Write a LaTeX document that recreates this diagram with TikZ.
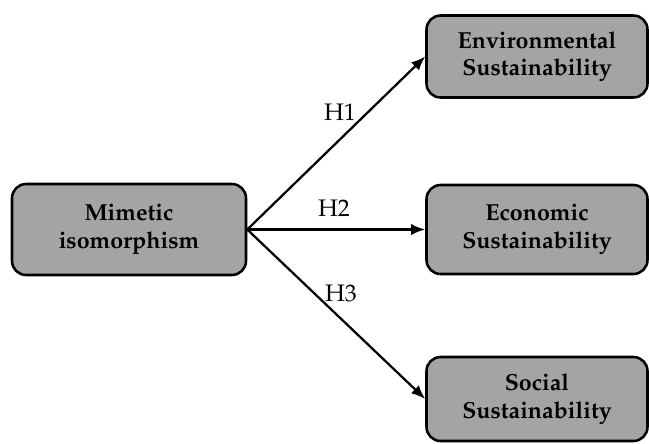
\documentclass[tikz,border=0pt]{standalone}
\usepackage[T1]{fontenc}
\usepackage{mathpazo}
\usetikzlibrary{arrows.meta}
\definecolor{boxgray}{RGB}{164,164,164}
\tikzset{
	construct/.style={draw, line width=1.8pt, fill=boxgray, rounded corners=10pt,
		align=center, font=\fontsize{16.5}{19.5}\selectfont\bfseries, inner sep=0pt},
	path/.style={line width=1.6pt, -{Latex[length=10pt,width=8pt]}},
	hyp/.style={font=\fontsize{17}{20}\selectfont}
}
\begin{document}
\begin{tikzpicture}[x=0.025cm, y=-0.025cm]
	\useasboundingbox (0,0) rectangle (649,443);

	\node[construct, minimum width=234*0.025cm, minimum height=91*0.025cm] (mim) at (129,229.5) {Mimetic\\isomorphism};
	\node[construct, minimum width=221*0.025cm, minimum height=82*0.025cm] (env) at (537,56.5) {Environmental\\Sustainability};
	\node[construct, minimum width=221*0.025cm, minimum height=89*0.025cm] (eco) at (537,229.5) {Economic\\Sustainability};
	\node[construct, minimum width=221*0.025cm, minimum height=84*0.025cm] (soc) at (537,399) {Social\\Sustainability};

	\draw[path] (mim.east) -- (env.west);
	\draw[path] (mim.east) -- (eco.west);
	\draw[path] (mim.east) -- (soc.west);

	\node[hyp] (h1) at (340,112) {H1};
	\node[hyp] (h2) at (334,208) {H2};
	\node[hyp] (h3) at (341,293) {H3};
\end{tikzpicture}
\end{document}
